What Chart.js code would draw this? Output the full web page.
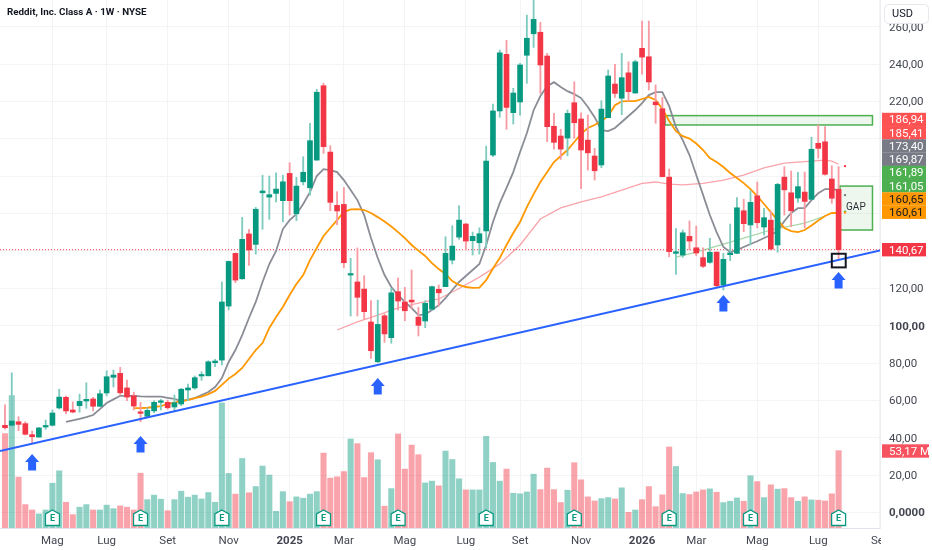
<!DOCTYPE html>
<html>
<head>
<meta charset="utf-8">
<title>Reddit, Inc. Class A</title>
<style>
html, body { margin: 0; padding: 0; background: #ffffff; }
canvas { display: block; }
</style>
<script src="https://cdn.jsdelivr.net/npm/chart.js@4"></script>
</head>
<body>
<canvas id="chart" width="932" height="550"></canvas>
<script>
const chartTitle = "Reddit, Inc. Class A · 1W · NYSE";

const opens = [
    46.7, 46.7, 48.6, 47.6, 41.7, 40.4, 45.8, 46.7, 56.0, 61.7,
    54.9, 57.2, 59.7, 60.8, 56.9, 64.0, 72.4, 74.5, 66.7, 62.5,
    53.4, 51.5, 54.4, 59.0, 59.0, 56.5, 58.1, 65.6, 66.7, 73.1,
    73.2, 80.2, 81.6, 110.5, 138.7, 125.1, 149.1, 143.5, 171.1, 168.8,
    170.8, 166.9, 181.5, 159.9, 177.0, 173.8, 188.6, 228.4, 192.9, 164.4,
    164.9, 127.1, 123.4, 119.6, 102.0, 80.7, 105.3, 93.6, 118.2, 112.7,
    113.7, 104.6, 102.5, 108.8, 119.5, 120.9, 135.1, 147.4, 154.4, 145.5,
    144.4, 150.7, 191.3, 214.9, 245.2, 214.0, 219.7, 244.7, 256.2, 257.0,
    244.3, 206.7, 201.5, 200.4, 219.3, 210.6, 199.3, 190.8, 186.0, 211.3,
    229.3, 221.7, 235.3, 224.5, 248.4, 243.9, 219.7, 216.1, 179.5, 138.7,
    137.8, 147.8, 141.7, 136.4, 133.9, 139.4, 121.8, 138.0, 138.7, 161.5,
    153.9, 169.5, 152.8, 156.5, 143.2, 179.5, 171.1, 168.3, 171.5, 167.6,
    197.6, 198.4, 178.5, 173.0
];
const highs = [
    57.6, 74.8, 51.3, 48.6, 43.7, 45.6, 49.5, 54.9, 66.0, 62.4,
    59.2, 63.4, 69.5, 61.7, 65.6, 75.9, 76.3, 77.7, 70.9, 64.4,
    59.0, 56.1, 59.9, 60.6, 60.2, 62.9, 66.5, 68.8, 73.1, 75.4,
    81.3, 82.0, 123.4, 134.6, 139.0, 158.0, 151.6, 163.3, 180.5, 180.1,
    181.8, 180.6, 187.2, 179.4, 190.4, 208.3, 226.5, 229.7, 196.3, 171.7,
    174.0, 136.1, 141.6, 126.7, 113.4, 113.7, 106.3, 120.0, 125.5, 120.5,
    129.8, 109.8, 113.4, 121.2, 121.8, 147.6, 153.5, 164.2, 154.8, 150.1,
    152.4, 196.1, 218.6, 247.5, 252.7, 227.0, 240.4, 266.2, 275.0, 262.3,
    245.7, 213.6, 205.1, 215.4, 230.5, 213.9, 212.7, 194.9, 220.4, 236.8,
    239.8, 245.7, 241.2, 242.1, 263.0, 263.0, 228.8, 222.2, 183.8, 151.9,
    151.2, 156.0, 153.3, 141.7, 146.8, 139.4, 138.7, 154.4, 168.5, 167.6,
    172.2, 176.9, 162.8, 161.0, 176.2, 185.1, 182.8, 182.1, 182.2, 200.9,
    207.4, 206.5, 185.6, 185.1
];
const lows = [
    44.7, 46.0, 43.8, 41.5, 37.4, 40.4, 44.6, 46.3, 55.4, 52.9,
    53.4, 53.7, 55.8, 54.4, 56.7, 62.4, 67.2, 62.9, 59.9, 54.9,
    48.6, 50.8, 53.4, 54.9, 55.3, 54.5, 57.2, 59.9, 66.0, 70.8,
    73.1, 78.1, 79.0, 108.4, 123.0, 124.8, 132.3, 138.3, 151.6, 156.9,
    166.2, 155.6, 159.2, 156.2, 175.3, 169.9, 188.6, 192.2, 161.5, 154.0,
    131.0, 105.2, 105.2, 103.4, 82.5, 80.2, 91.1, 90.6, 108.4, 102.7,
    109.3, 94.5, 98.9, 108.4, 110.5, 120.9, 133.0, 146.2, 140.5, 137.8,
    138.3, 141.6, 190.4, 211.5, 205.1, 207.9, 212.7, 229.7, 248.9, 224.3,
    198.4, 194.4, 189.0, 190.9, 200.3, 173.3, 183.3, 177.9, 184.5, 211.3,
    222.2, 212.9, 220.2, 224.3, 234.6, 226.1, 208.3, 179.7, 136.9, 127.5,
    136.6, 140.5, 137.4, 131.0, 133.4, 120.9, 119.1, 134.8, 138.7, 150.3,
    143.2, 152.3, 148.5, 140.5, 139.3, 159.2, 153.0, 166.0, 152.3, 167.6,
    189.7, 180.6, 165.5, 135.5
];
const closes = [
    45.4, 49.0, 47.2, 41.9, 40.6, 45.3, 46.3, 53.3, 61.8, 54.4,
    53.8, 59.5, 60.6, 56.9, 63.6, 72.7, 73.6, 64.1, 61.8, 57.0,
    53.1, 54.7, 59.0, 59.7, 56.1, 58.8, 66.0, 66.7, 72.2, 73.8,
    80.7, 81.1, 112.7, 134.4, 124.4, 146.2, 140.5, 162.3, 172.1, 170.1,
    173.1, 177.0, 166.9, 174.7, 182.1, 199.0, 224.9, 195.8, 166.0, 161.4,
    133.7, 127.7, 115.2, 107.5, 86.6, 100.7, 95.6, 117.6, 113.2, 108.0,
    112.7, 100.2, 112.0, 120.9, 117.6, 138.7, 142.6, 156.5, 145.3, 147.8,
    149.2, 188.1, 214.9, 246.0, 216.8, 224.5, 239.5, 253.8, 263.9, 239.5,
    206.5, 198.1, 194.5, 213.6, 208.6, 194.0, 192.5, 182.9, 215.9, 233.6,
    224.3, 232.7, 225.2, 241.2, 243.7, 230.4, 218.2, 179.7, 139.6, 139.6,
    149.7, 145.3, 138.9, 131.8, 139.3, 121.4, 135.5, 139.0, 163.1, 154.6,
    166.0, 155.1, 157.8, 141.0, 175.6, 172.7, 161.5, 174.4, 166.5, 194.4,
    194.9, 181.0, 168.2, 140.67
];
const volumes = [
    64.9, 91.0, 35.0, 16.1, 12.4, 9.7, 12.4, 30.8, 39.3, 17.7,
    9.2, 14.3, 16.1, 12.4, 12.4, 15.7, 13.3, 15.2, 14.3, 12.4,
    37.7, 19.5, 22.6, 19.8, 11.9, 19.5, 25.3, 21.2, 22.6, 20.0,
    24.4, 17.7, 86.0, 37.5, 23.3, 47.8, 24.2, 28.5, 42.6, 36.4,
    11.5, 25.0, 18.1, 21.4, 20.5, 23.3, 25.0, 51.5, 34.3, 35.2,
    38.8, 61.2, 58.0, 34.7, 51.8, 46.9, 15.0, 27.1, 64.7, 40.5,
    57.0, 50.4, 31.0, 32.2, 29.0, 52.9, 47.1, 33.8, 26.2, 26.2,
    26.2, 63.0, 45.1, 32.2, 40.5, 23.9, 23.5, 24.8, 37.0, 26.4,
    41.2, 26.4, 17.5, 26.0, 44.9, 33.1, 21.4, 18.6, 20.2, 20.9,
    20.0, 27.6, 10.8, 12.4, 19.5, 28.5, 14.7, 22.8, 55.7, 42.3,
    23.7, 23.0, 24.8, 26.2, 26.9, 24.6, 17.5, 18.4, 20.7, 18.4,
    35.9, 31.9, 20.9, 29.7, 26.7, 27.1, 20.9, 18.4, 21.4, 19.3,
    19.1, 18.6, 23.5, 53.17
];

const grayStart = 9;
const grayLine = [
    48.5, 49.3, 50.1, 51.1, 52.2, 55.4, 58.6, 60.6, 62.5, 62.5, 62.5,
    62.2, 62.0, 62.0, 62.0, 61.4, 60.8, 59.7, 60.5, 61.3, 62.9, 64.5, 67.2, 72.0,
    80.6, 87.0, 95.0, 104.1, 112.7, 123.4, 133.0, 140.0, 151.7, 156.5, 159.7,
    165.1, 171.5, 180.1, 183.8, 183.3, 182.2, 177.9, 172.6, 167.2, 159.2, 146.9,
    136.2, 127.1, 120.7, 116.4, 112.7, 109.4, 105.7, 106.0, 108.4, 111.0, 114.8,
    119.1, 123.4, 126.6, 129.8, 133.0, 143.2, 155.5, 165.6, 173.7, 182.2, 192.9,
    203.0, 215.3, 222.9, 228.2, 230.3, 227.7, 225.5, 223.9, 221.8, 217.0, 211.6,
    204.6, 204.1, 205.8, 209.0, 212.2, 215.4, 219.1, 223.4, 225.0, 225.0, 217.5,
    206.3, 199.3, 191.3, 180.6, 170.0, 159.2, 150.1, 142.1, 139.4, 140.5, 142.1,
    143.7, 145.2, 146.9, 148.5, 150.6, 156.0, 160.3, 162.9, 162.9, 167.2, 170.9,
    173.1, 173.1, 172.6
];
const orangeStart = 19;
const orangeLine = [
    55.9, 55.9, 56.1, 56.5, 57.0, 58.1, 58.9, 59.7, 60.2, 61.3, 62.1,
    63.4, 65.1, 68.3, 71.7, 74.2, 77.4, 82.2, 87.0, 90.7, 98.8,
    104.6, 110.0, 116.4, 122.3, 127.1, 135.1, 141.6, 148.0, 152.3, 156.5,
    160.8, 162.2, 162.4, 161.9, 160.3, 158.1, 155.7, 153.1, 150.1, 146.9,
    143.2, 140.2, 137.3, 133.5, 130.3, 127.7, 123.9, 121.8, 120.7, 120.2,
    120.4, 124.4, 130.6, 136.2, 143.2, 149.6, 155.5, 163.5, 170.4, 176.9,
    182.2, 187.6, 190.8, 194.0, 198.3, 202.6, 205.8, 207.4, 209.5, 212.2,
    218.0, 220.0, 220.2, 220.2, 221.3, 222.4, 220.8, 216.0, 209.5, 204.1,
    201.4, 200.1, 197.5, 194.0, 189.7, 187.6, 184.9, 181.7, 179.0, 176.3,
    173.1, 169.4, 165.1, 160.8, 156.5, 152.3, 150.6, 150.1, 151.2, 153.6,
    156.3, 158.7, 160.3, 160.3
];
const pinkBars = [49, 52, 55, 58, 61, 64, 67, 70, 73, 76, 79, 82, 85, 88, 91, 94, 96, 98, 100, 103, 106, 109, 112, 115, 119, 121, 122, 123];
const pinkLine = [97.7, 102.0, 105.7, 109.5, 112.1, 114.3, 119.9, 126.0, 133.0, 143.2, 157.1, 163.0, 166.2, 168.9, 172.6, 176.1, 176.9, 175.8, 175.3, 176.1, 177.9, 180.6, 184.4, 187.0, 188.1, 188.6, 188.1, 186.4];
const greenBars = [99, 102, 108, 113, 118, 121];
const greenLine = [136.7, 139.4, 145.8, 151.2, 154.9, 158.7];

const priceTicks = [0, 20, 40, 60, 80, 100, 120, 140, 160, 180, 200, 220, 240, 260];
const boldPrices = [0, 100];
const monthBars = [7, 15, 24, 33, 42, 50, 59, 68, 76, 85, 94, 102, 111, 120, 129];
const monthLabels = ["Mag", "Lug", "Set", "Nov", "2025", "Mar", "Mag", "Lug", "Set", "Nov", "2026", "Mar", "Mag", "Lug", "Set"];

const lastPrice = 140.67;
const trendBars = [-0.74, 129.11];
const trendPrices = [32.96, 140.3];
const dotBar = 123.95;
const dotPrices = [185.41, 169.87, 161.05, 160.61];
const earningsBars = [7, 20, 32, 47, 58, 71, 84, 98, 110, 123];
const arrowBars = [4, 20, 55, 106, 123];
const arrowPrices = [31.4, 41, 72, 116.4, 128.7];
const zoneBars = [[97.4, 128], [123.2, 128]];
const zonePrices = [[212.4, 207.4], [174.7, 151.2]];
const boxBars = [122, 124.05];
const boxPrices = [138.5, 131.2];
const gapLabel = "GAP";
const gapBar = 124.1;
const gapPrice = 163;
const tagTexts = ["186,94", "185,41", "173,40", "169,87", "161,89", "161,05", "160,65", "160,61"];
const tagColors = ["#ff5252", "#ff5252", "#787b86", "#787b86", "#4caf50", "#4caf50", "#ff9800", "#ff9800"];

const GREEN = "#089981";
const RED = "#f23645";
const FONT = "Roboto";

const isUp = opens.map(function (open, i) {
    return closes[i] >= open;
});

function rangeData(first, second) {
    return first.map(function (value, i) {
        return { x: i, y: [value, second[i]] };
    });
}

function lineData(bars, values) {
    return values.map(function (value, i) {
        return { x: bars ? bars[i] : i, y: value };
    });
}

function startAt(start, values) {
    return values.map(function (value, i) {
        return { x: start + i, y: value };
    });
}

function pickColors(up, down) {
    return isUp.map(function (flag) {
        return flag ? up : down;
    });
}

const overlay = {
    id: "overlay",
    beforeDatasetsDraw: function (chart) {
        const ctx = chart.ctx;
        const xs = chart.scales.x;
        const ys = chart.scales.y;

        ctx.save();
        zoneBars.forEach(function (bars, i) {
            const left = xs.getPixelForValue(bars[0]);
            const right = xs.getPixelForValue(bars[1]);
            const top = ys.getPixelForValue(zonePrices[i][0]);
            const bottom = ys.getPixelForValue(zonePrices[i][1]);
            ctx.fillStyle = "rgba(76, 175, 80, 0.1)";
            ctx.fillRect(left, top, right - left, bottom - top);
            ctx.strokeStyle = "#4caf50";
            ctx.lineWidth = 1.5;
            ctx.strokeRect(left, top, right - left, bottom - top);
        });
        ctx.restore();
    },
    afterDraw: function (chart) {
        const ctx = chart.ctx;
        const xs = chart.scales.x;
        const ys = chart.scales.y;

        ctx.save();

        // the last month label is cut by the price scale
        ctx.fillStyle = "#ffffff";
        ctx.fillRect(881, 529, 51, 21);

        ctx.fillStyle = "#131722";
        ctx.font = "bold 9.8px Roboto";
        ctx.textAlign = "left";
        ctx.textBaseline = "middle";
        ctx.fillText(chartTitle, 7, 13);

        ctx.fillStyle = "#2b2f3a";
        ctx.font = "10px " + FONT;
        ctx.fillText(gapLabel, xs.getPixelForValue(gapBar), ys.getPixelForValue(gapPrice));

        ctx.strokeStyle = "#131722";
        ctx.lineWidth = 2;
        const boxLeft = xs.getPixelForValue(boxBars[0]);
        const boxTop = ys.getPixelForValue(boxPrices[0]);
        ctx.strokeRect(boxLeft, boxTop, xs.getPixelForValue(boxBars[1]) - boxLeft, ys.getPixelForValue(boxPrices[1]) - boxTop);

        arrowBars.forEach(function (bar, i) {
            drawArrow(ctx, xs.getPixelForValue(bar), ys.getPixelForValue(arrowPrices[i]));
        });

        earningsBars.forEach(function (bar) {
            drawEarnings(ctx, xs.getPixelForValue(bar), 510);
        });

        tagTexts.forEach(function (text, i) {
            drawTag(ctx, text, tagColors[i], 119.5 + i * 13.25, 44, i > 5 ? "#131722" : "#ffffff");
        });
        drawTag(ctx, "140,67", RED, ys.getPixelForValue(lastPrice), 44, "#ffffff");
        drawTag(ctx, "53,17 M", "#f7525f", 451, 47, "#ffffff");

        ctx.beginPath();
        ctx.roundRect(884.5, 4.5, 44, 19, 4);
        ctx.fillStyle = "#ffffff";
        ctx.fill();
        ctx.strokeStyle = "#e6e8ee";
        ctx.lineWidth = 1;
        ctx.stroke();
        ctx.fillStyle = "#131722";
        ctx.font = "11px " + FONT;
        ctx.textAlign = "left";
        ctx.fillText("USD", 892, 14);

        ctx.restore();
    }
};

function drawArrow(ctx, x, tip) {
    ctx.fillStyle = "#2962ff";
    ctx.beginPath();
    ctx.moveTo(x, tip);
    ctx.lineTo(x + 7, tip + 8);
    ctx.lineTo(x + 4, tip + 8);
    ctx.lineTo(x + 4, tip + 16.5);
    ctx.lineTo(x - 4, tip + 16.5);
    ctx.lineTo(x - 4, tip + 8);
    ctx.lineTo(x - 7, tip + 8);
    ctx.closePath();
    ctx.fill();
}

function drawEarnings(ctx, x, top) {
    ctx.beginPath();
    ctx.moveTo(x, top);
    ctx.lineTo(x + 7, top + 4);
    ctx.lineTo(x + 7, top + 15.5);
    ctx.lineTo(x - 7, top + 15.5);
    ctx.lineTo(x - 7, top + 4);
    ctx.closePath();
    ctx.fillStyle = "#ffffff";
    ctx.fill();
    ctx.strokeStyle = GREEN;
    ctx.lineWidth = 1.3;
    ctx.stroke();
    ctx.fillStyle = GREEN;
    ctx.font = "bold 9px " + FONT;
    ctx.textAlign = "center";
    ctx.textBaseline = "middle";
    ctx.fillText("E", x, top + 9);
}

function drawTag(ctx, text, color, y, width, textColor) {
    ctx.fillStyle = color;
    ctx.fillRect(882, y - 6.7, width, 13.4);
    ctx.fillStyle = textColor;
    ctx.font = "11.5px " + FONT;
    ctx.textAlign = "left";
    ctx.textBaseline = "middle";
    ctx.fillText(text, 889, y + 1);
}

const datasets = [
    {
        type: "line",
        data: lineData(trendBars, trendPrices),
        borderColor: "#2962ff",
        borderWidth: 2,
        pointRadius: 0,
        order: 0
    },
    {
        type: "line",
        data: lineData(null, dotPrices).map(function (point) {
            return { x: dotBar, y: point.y };
        }),
        showLine: false,
        pointRadius: 1.2,
        pointBorderWidth: 0,
        pointBackgroundColor: ["#f23645", "#787b86", "#4caf50", "#ff9800"],
        order: 1
    },
    {
        type: "bar",
        data: rangeData(opens, closes),
        backgroundColor: pickColors(GREEN, RED),
        barThickness: 5,
        minBarLength: 1.5,
        grouped: false,
        order: 2
    },
    {
        type: "bar",
        data: rangeData(lows, highs),
        backgroundColor: pickColors("#7fccbf", "#f99ba3"),
        barThickness: 1.2,
        grouped: false,
        order: 3
    },
    {
        type: "line",
        data: startAt(orangeStart, orangeLine),
        borderColor: "#ff9800",
        borderWidth: 1.8,
        pointRadius: 0,
        order: 4
    },
    {
        type: "line",
        data: startAt(grayStart, grayLine),
        borderColor: "#8a8d96",
        borderWidth: 1.8,
        pointRadius: 0,
        order: 5
    },
    {
        type: "line",
        data: lineData(pinkBars, pinkLine),
        borderColor: "rgba(242, 54, 69, 0.45)",
        borderWidth: 1.3,
        pointRadius: 0,
        order: 6
    },
    {
        type: "line",
        data: lineData(greenBars, greenLine),
        borderColor: "rgba(76, 175, 80, 0.5)",
        borderWidth: 1.2,
        pointRadius: 0,
        order: 7
    },
    {
        type: "line",
        data: lineData(trendBars, [lastPrice, lastPrice]),
        borderColor: RED,
        borderWidth: 1,
        borderDash: [1, 2],
        pointRadius: 0,
        order: 8
    },
    {
        type: "bar",
        yAxisID: "vol",
        data: volumes.map(function (value, i) {
            return { x: i, y: value };
        }),
        backgroundColor: pickColors("rgba(8, 153, 129, 0.45)", "rgba(242, 54, 69, 0.45)"),
        barThickness: 5.4,
        grouped: false,
        order: 9
    }
];

new Chart(document.getElementById("chart"), {
    type: "bar",
    data: { datasets: datasets },
    plugins: [overlay],
    options: {
        responsive: false,
        animation: false,
        layout: { padding: 0, autoPadding: false },
        plugins: { legend: { display: false }, tooltip: { enabled: false } },
        scales: {
            x: {
                type: "linear",
                min: -0.738,
                max: 129.11,
                offset: false,
                afterBuildTicks: function (scale) {
                    scale.ticks = monthBars.map(function (bar) {
                        return { value: bar };
                    });
                },
                afterFit: function (scale) {
                    scale.height = 22;
                    scale.paddingLeft = 0;
                    scale.paddingRight = 0;
                },
                grid: { color: "#f3f4f6", offset: false, drawTicks: false },
                border: { color: "#e0e3eb" },
                ticks: {
                    autoSkip: false,
                    maxRotation: 0,
                    padding: 6,
                    color: "#434651",
                    font: function (context) {
                        const bold = context.tick && /^20/.test(monthLabels[monthBars.indexOf(context.tick.value)]);
                        return { family: FONT, size: 11.5, weight: bold ? "bold" : "normal" };
                    },
                    callback: function (value) {
                        return monthLabels[monthBars.indexOf(value)];
                    }
                }
            },
            y: {
                position: "right",
                min: -8.24,
                max: 274.27,
                afterBuildTicks: function (scale) {
                    scale.ticks = priceTicks.map(function (price) {
                        return { value: price };
                    });
                },
                afterFit: function (scale) {
                    scale.width = 52;
                    scale.paddingTop = 0;
                    scale.paddingBottom = 0;
                },
                grid: { color: "#f3f4f6", drawTicks: false },
                border: { color: "#eceef2" },
                ticks: {
                    padding: 9,
                    labelOffset: 1,
                    color: "#434651",
                    font: function (context) {
                        const bold = context.tick && boldPrices.indexOf(context.tick.value) !== -1;
                        return { family: FONT, size: 11.5, weight: bold ? "bold" : "normal" };
                    },
                    callback: function (value) {
                        return value === 0 ? "0,0000" : value.toFixed(2).replace(".", ",");
                    }
                }
            },
            vol: {
                display: false,
                min: 0,
                max: 363
            }
        }
    }
});
</script>
</body>
</html>
